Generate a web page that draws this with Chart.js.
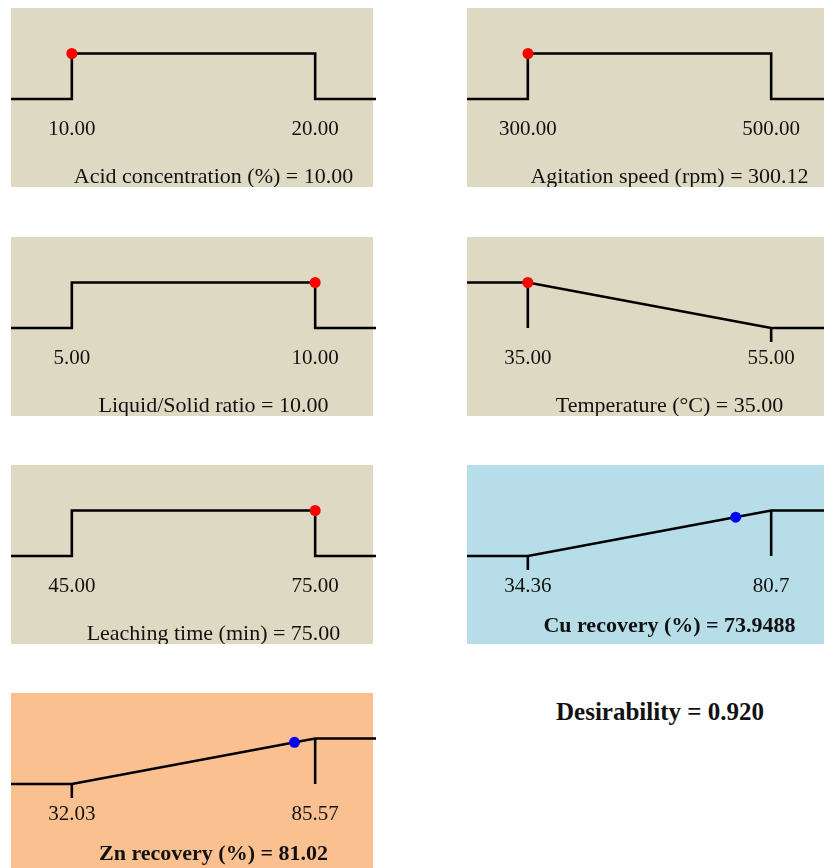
<!DOCTYPE html>
<html>
<head>
<meta charset="utf-8">
<script src="https://cdn.jsdelivr.net/npm/chart.js@4.4.0/dist/chart.umd.min.js"></script>
<style>
  body { margin: 0; background: #fff; overflow: hidden; width: 824px; height: 868px; position: relative; font-family: 'Liberation Serif', 'Times New Roman', serif; }
  .panel { position: absolute; width: 362px; height: 179px; }
  .panel canvas { position: absolute; left: 0; top: 0; }
  #overall { position: absolute; left: 467px; width: 386px; top: 697px; line-height: 30px; text-align: center; font-weight: bold; font-size: 25px; color: #111; }
</style>
</head>
<body>
<div id="overall"></div>
<script>
// Desirability ramps - one small chart per factor / response

const panelNames = ['Acid concentration (%)', 'Agitation speed (rpm)', 'Liquid/Solid ratio', 'Temperature (°C)', 'Leaching time (min)', 'Cu recovery (%)', 'Zn recovery (%)'];
const lowBounds = [10, 300, 5, 35, 45, 34.36, 32.03];
const highBounds = [20, 500, 10, 55, 75, 80.7, 85.57];
const lowLabels = ['10.00', '300.00', '5.00', '35.00', '45.00', '34.36', '32.03'];
const highLabels = ['20.00', '500.00', '10.00', '55.00', '75.00', '80.7', '85.57'];
const goals = ['range', 'range', 'range', 'minimize', 'range', 'maximize', 'maximize'];
const currentValues = [10.00, 300.12, 10.00, 35.00, 75.00, 73.9488, 81.02];
const valueLabels = ['10.00', '300.12', '10.00', '35.00', '75.00', '73.9488', '81.02'];
const currentD = [1, 1, 1, 1, 1, 0.854, 0.915];
const overallDesirability = '0.920';

const isResponse = [false, false, false, false, false, true, true];
const panelColors = ['#ddd9c3', '#ddd9c3', '#ddd9c3', '#ddd9c3', '#ddd9c3', '#b7dee8', '#fac090'];

const TICK_DEPTH = -0.31;

document.getElementById('overall').textContent = 'Desirability = ' + overallDesirability;

// texte du bas, un peu decale a droite comme dans l'original
const captionPlugin = {
    id: 'caption',
    afterDraw(chart, args, opts) {
        const ctx = chart.ctx;
        const a = chart.chartArea;
        ctx.save();
        ctx.font = (opts.bold ? 'bold ' : '') + opts.size + 'px "Liberation Serif"';
        ctx.fillStyle = '#111';
        ctx.textAlign = 'center';
        ctx.textBaseline = 'middle';
        ctx.fillText(opts.text, (a.left + a.right) / 2 + opts.shift, opts.y);
        ctx.restore();
    }
};

function curvePoints(i, xmin, xmax) {
    const lo = lowBounds[i], hi = highBounds[i];
    if (goals[i] === 'range') {
        return [{ x: xmin, y: 0 }, { x: lo, y: 0 }, { x: lo, y: 1 }, { x: hi, y: 1 }, { x: hi, y: 0 }, { x: xmax, y: 0 }];
    }
    if (goals[i] === 'minimize') {
        return [{ x: xmin, y: 1 }, { x: lo, y: 1 }, { x: hi, y: 0 }, { x: xmax, y: 0 }];
    }
    return [{ x: xmin, y: 0 }, { x: lo, y: 0 }, { x: hi, y: 1 }, { x: xmax, y: 1 }];
}

function boundTicks(i) {
    if (goals[i] === 'range') return [];
    const lo = lowBounds[i], hi = highBounds[i];
    const dLo = goals[i] === 'minimize' ? 1 : 0;
    const dHi = 1 - dLo;
    return [
        [{ x: lo, y: dLo }, { x: lo, y: dLo === 1 ? 0 : TICK_DEPTH }],
        [{ x: hi, y: dHi }, { x: hi, y: dHi === 1 ? 0 : TICK_DEPTH }]
    ];
}

panelNames.forEach((name, i) => {
    const col = i % 2, row = Math.floor(i / 2);
    const div = document.createElement('div');
    div.className = 'panel';
    div.style.left = (col === 0 ? 11 : 467) + 'px';
    div.style.top = [8, 237, 465, 693][row] + 'px';
    div.style.background = panelColors[i];
    const canvas = document.createElement('canvas');
    canvas.width = 365;
    canvas.height = 179;
    div.appendChild(canvas);
    document.body.appendChild(div);

    const lo = lowBounds[i], hi = highBounds[i];
    const span = hi - lo;
    const xmin = lo - 0.25 * span, xmax = hi + 0.25 * span;

    const lineStyle = { borderColor: '#000', borderWidth: 2.6, pointRadius: 0, fill: false, tension: 0, borderJoinStyle: 'miter', order: 1 };
    const datasets = [
        {
            type: 'scatter',
            data: [{ x: currentValues[i], y: currentD[i] }],
            backgroundColor: isResponse[i] ? '#0000ff' : '#ff0000',
            borderWidth: 0,
            pointRadius: 5.5,
            order: 0
        },
        Object.assign({ type: 'line', data: curvePoints(i, xmin, xmax) }, lineStyle)
    ];
    boundTicks(i).forEach(seg => datasets.push(Object.assign({ type: 'line', data: seg }, lineStyle)));

    new Chart(canvas.getContext('2d'), {
        data: { datasets },
        options: {
            responsive: false,
            animation: false,
            events: [],
            layout: { padding: 0, autoPadding: false },
            plugins: {
                legend: { display: false },
                tooltip: { enabled: false },
                caption: {
                    text: name + ' = ' + valueLabels[i],
                    bold: isResponse[i],
                    size: 22,
                    shift: 20,
                    y: isResponse[i] ? 161 : 169.5
                }
            },
            scales: {
                x: {
                    type: 'linear',
                    min: xmin,
                    max: xmax,
                    border: { display: false },
                    grid: { display: false, drawTicks: false },
                    afterBuildTicks: scale => { scale.ticks = [{ value: lo }, { value: hi }]; },
                    afterFit: scale => { scale.height = 69.8; },
                    ticks: {
                        autoSkip: false,
                        maxRotation: 0,
                        padding: 2,
                        color: '#111',
                        font: { family: 'Liberation Serif', size: 21, lineHeight: 1 },
                        callback: (v, idx) => idx === 0 ? lowLabels[i] : highLabels[i]
                    }
                },
                y: { type: 'linear', min: -0.4, max: 2, display: false }
            }
        },
        plugins: [captionPlugin]
    });
});
</script>
</body>
</html>
